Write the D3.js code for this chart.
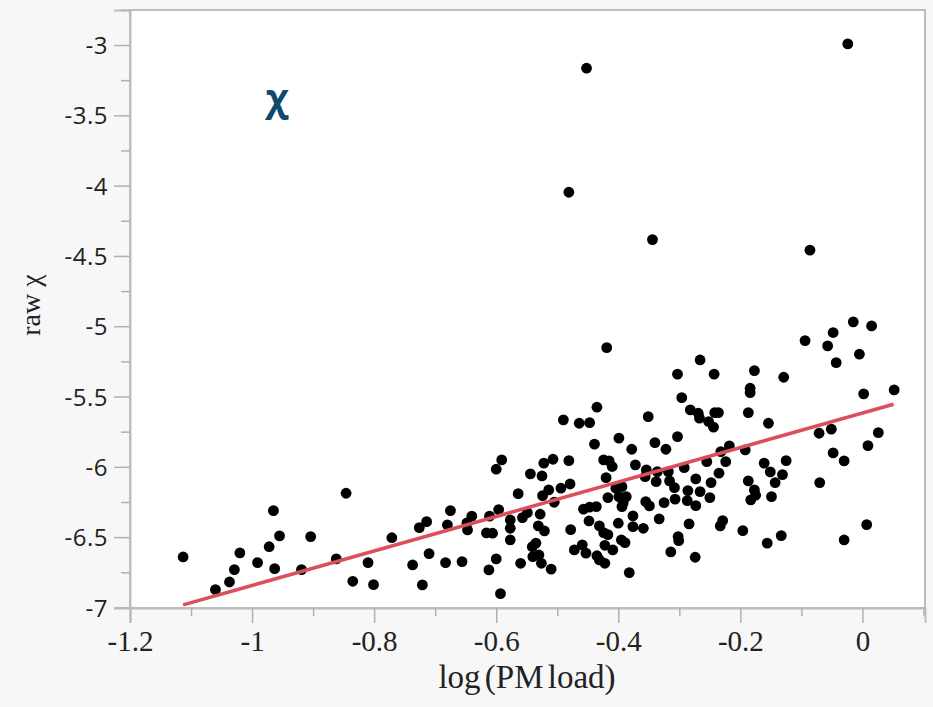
<!DOCTYPE html>
<html>
<head>
<meta charset="utf-8">
<script src="https://cdn.jsdelivr.net/npm/d3@7"></script>
<style>
  body { margin: 0; background: #f7f7f7; }
  svg { display: block; }
</style>
</head>
<body>
<div id="screen"></div>
<script>
var width = 933;
var height = 707;

// log(PM load) values
var pmLog = [
  -0.452, -0.024, -0.481, -0.344, -0.086, -0.419,
  -1.113, -1.060, -1.037, -1.029, -1.020, -0.991, -0.972, -0.965, -0.955, -0.963,
  -0.919, -0.904, -0.862, -0.846, -0.835, -0.810, -0.801,
  -0.771, -0.737, -0.721, -0.726, -0.714, -0.710, -0.683, -0.680, -0.675, -0.656,
  -0.648, -0.647, -0.640, -0.616, -0.606, -0.611, -0.596, -0.612, -0.600, -0.593,
  -0.600, -0.591, -0.577, -0.577, -0.577, -0.564, -0.560, -0.557, -0.549, -0.544,
  -0.541, -0.535, -0.540, -0.530, -0.526, -0.510, -0.528, -0.531, -0.521, -0.525,
  -0.522, -0.507, -0.524, -0.514, -0.505, -0.494, -0.479, -0.481, -0.490, -0.464,
  -0.447, -0.435, -0.439, -0.478, -0.472, -0.459, -0.453, -0.457, -0.447, -0.436,
  -0.448, -0.431, -0.424, -0.417, -0.435, -0.431, -0.422, -0.422, -0.409, -0.400,
  -0.395, -0.389, -0.382, -0.417, -0.424, -0.415, -0.410, -0.420, -0.404, -0.394,
  -0.399, -0.392, -0.387, -0.394, -0.376, -0.376, -0.372, -0.378, -0.399,
  -0.094, -0.057, -0.048, -0.015, 0.015, -0.043, -0.005, 0.002, 0.052, -0.071,
  -0.051, 0.026, 0.009, -0.048, -0.030, -0.070, 0.007, -0.030, -0.129, -0.177,
  -0.184, -0.184, -0.187, -0.154, -0.192, -0.161, -0.151, -0.125, -0.131, -0.143,
  -0.187, -0.177, -0.175, -0.183, -0.149, -0.133, -0.156, -0.196, -0.229, -0.233,
  -0.274, -0.314, -0.302, -0.301, -0.284, -0.333, -0.359, -0.355, -0.349, -0.325,
  -0.307, -0.286, -0.287, -0.273, -0.266, -0.250, -0.248, -0.235, -0.273, -0.308,
  -0.316, -0.338, -0.356, -0.354, -0.336, -0.318, -0.292, -0.255, -0.224, -0.232,
  -0.218, -0.340, -0.322, -0.303, -0.351, -0.296, -0.303, -0.266, -0.243, -0.282,
  -0.269, -0.267, -0.242, -0.236, -0.252, -0.244
];

// raw chi values, same order
var rawChi = [
  -3.165, -2.992, -4.047, -4.384, -4.459, -5.152,
  -6.641, -6.873, -6.819, -6.731, -6.612, -6.681, -6.568, -6.311, -6.491, -6.724,
  -6.731, -6.496, -6.655, -6.188, -6.814, -6.681, -6.838,
  -6.504, -6.698, -6.840, -6.432, -6.390, -6.617, -6.681, -6.413, -6.311, -6.674,
  -6.399, -6.449, -6.351, -6.470, -6.472, -6.351, -6.304, -6.733, -6.655, -6.902,
  -6.017, -5.951, -6.378, -6.437, -6.520, -6.191, -6.686, -6.361, -6.326, -6.050,
  -6.568, -6.543, -6.639, -6.627, -6.686, -6.728, -6.337, -6.420, -6.456, -6.065,
  -5.974, -5.946, -6.205, -6.164, -6.252, -6.152, -6.122, -5.956, -5.666, -5.690,
  -5.686, -5.576, -5.839, -6.447, -6.591, -6.555, -6.614, -6.301, -6.287, -6.283,
  -6.385, -6.420, -6.468, -6.482, -6.632, -6.662, -6.686, -6.558, -6.591, -6.401,
  -6.520, -6.539, -6.752, -6.219, -5.951, -5.958, -5.998, -6.077, -6.152, -6.141,
  -6.212, -6.255, -6.212, -6.283, -6.349, -6.425, -5.986, -5.875, -5.796,
  -5.102, -5.140, -5.045, -4.969, -4.998, -5.259, -5.199, -5.481, -5.453, -5.761,
  -5.732, -5.757, -5.849, -5.901, -5.958, -6.112, -6.411, -6.520, -5.363, -5.316,
  -5.441, -5.472, -5.614, -5.690, -5.880, -5.974, -6.036, -5.956, -6.055, -6.112,
  -6.100, -6.164, -6.202, -6.235, -6.212, -6.489, -6.543, -6.454, -6.383, -6.420,
  -6.643, -6.605, -6.496, -6.525, -6.406, -6.370, -6.437, -6.247, -6.278, -6.255,
  -6.230, -6.169, -6.240, -6.276, -6.176, -6.219, -6.112, -6.045, -6.086, -6.148,
  -6.100, -6.105, -6.070, -6.022, -6.034, -6.034, -6.006, -5.963, -5.963, -5.892,
  -5.851, -5.828, -5.875, -5.785, -5.643, -5.508, -5.341, -5.240, -5.341, -5.595,
  -5.619, -5.654, -5.614, -5.614, -5.678, -5.718
];

// fitted line end points
var fitX = [-1.113, 0.051];
var fitY = [-6.982, -5.555];

var xTicks = [-1.2, -1, -0.8, -0.6, -0.4, -0.2, 0];
var xMinor = [-1.1, -0.9, -0.7, -0.5, -0.3, -0.1, 0.1];
var yTicks = [-3, -3.5, -4, -4.5, -5, -5.5, -6, -6.5, -7];
var yMinor = [-2.75, -3.25, -3.75, -4.25, -4.75, -5.25, -5.75, -6.25, -6.75];

var plotLeft = 130, plotRight = 925, plotTop = 10, plotBottom = 608;

var svg = d3.select("#screen").append("svg")
  .attr("width", width).attr("height", height);

svg.append("rect").attr("width", width).attr("height", height).attr("fill", "#f7f7f7");

var scaleX = d3.scaleLinear().domain([-1.2, 0.1025]).range([plotLeft, plotRight]);
var scaleY = d3.scaleLinear().domain([-7.004, -2.751]).range([plotBottom, plotTop]);

// plot frame
svg.append("rect")
  .attr("x", plotLeft).attr("y", plotTop)
  .attr("width", plotRight - plotLeft).attr("height", plotBottom - plotTop)
  .attr("fill", "#fff")
  .attr("stroke", "#bdbdbd")
  .attr("stroke-width", 2);

// axes
var fmt = function(d){ return d3.format("~g")(d).replace("\u2212", "-"); };
var xAxis = d3.axisBottom(scaleX).tickValues(xTicks).tickSize(15).tickFormat(fmt);
var xMinorAxis = d3.axisBottom(scaleX).tickValues(xMinor).tickSize(8).tickFormat("");
var yAxis = d3.axisLeft(scaleY).tickValues(yTicks).tickSize(16).tickFormat(fmt);
var yMinorAxis = d3.axisLeft(scaleY).tickValues(yMinor).tickSize(9).tickFormat("");

var gx = svg.append("g").attr("transform", "translate(0," + plotBottom + ")").call(xAxis);
svg.append("g").attr("transform", "translate(0," + plotBottom + ")").call(xMinorAxis)
  .select(".domain").remove();
var gy = svg.append("g").attr("transform", "translate(" + plotLeft + ",0)").call(yAxis);
svg.append("g").attr("transform", "translate(" + plotLeft + ",0)").call(yMinorAxis)
  .select(".domain").remove();

svg.selectAll(".domain").attr("stroke", "#bdbdbd").attr("stroke-width", 2);
svg.selectAll(".tick line").attr("stroke", "#b0b0b0").attr("stroke-width", 1.5);

gx.selectAll(".tick text")
  .attr("y", 15)
  .attr("dy", "0.95em")
  .attr("fill", "#222")
  .style("font-family", "'Liberation Serif', serif")
  .style("font-size", "29px");

gy.selectAll(".tick text")
  .attr("x", -22)
  .attr("dy", "0.36em")
  .attr("fill", "#222")
  .style("font-family", "'Open Sans', sans-serif")
  .style("font-size", "24px")
  .style("letter-spacing", "0.5px");

// points
svg.append("g").selectAll("circle").data(pmLog).enter().append("circle")
  .attr("cx", function(d){ return scaleX(d); })
  .attr("cy", function(d, i){ return scaleY(rawChi[i]); })
  .attr("r", 5.4)
  .attr("fill", "#000");

// fit line
svg.append("line")
  .attr("x1", scaleX(fitX[0])).attr("y1", scaleY(fitY[0]))
  .attr("x2", scaleX(fitX[1])).attr("y2", scaleY(fitY[1]))
  .attr("stroke", "#d94f5c")
  .attr("stroke-width", 3.5);

// labels
svg.append("text")
  .attr("x", 527).attr("y", 688)
  .attr("text-anchor", "middle")
  .attr("fill", "#222")
  .style("font-family", "'Liberation Serif', serif")
  .style("font-size", "33px")
  .style("word-spacing", "-4px")
  .text("log (PM load)");

svg.append("text")
  .attr("transform", "translate(40,305) rotate(-90)")
  .attr("text-anchor", "middle")
  .attr("fill", "#222")
  .style("font-family", "'Liberation Serif', serif")
  .style("font-size", "28px")
  .text("raw χ");

svg.append("text")
  .attr("x", 277).attr("y", 111)
  .attr("text-anchor", "middle")
  .attr("fill", "#0e4a6e")
  .style("font-family", "'Open Sans', sans-serif")
  .style("font-weight", "bold")
  .style("font-size", "38px")
  .text("χ");
</script>
</body>
</html>
